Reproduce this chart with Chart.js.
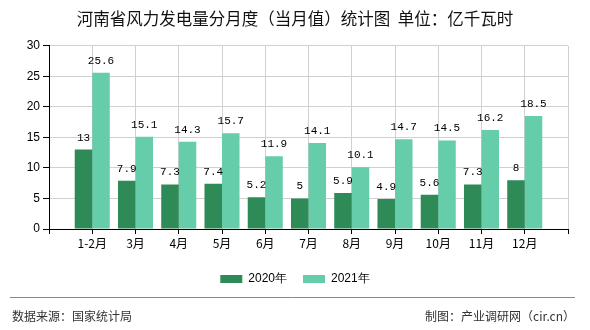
<!DOCTYPE html>
<html>
<head>
<meta charset="utf-8">
<script src="https://cdn.jsdelivr.net/npm/chart.js@4.4.1/dist/chart.umd.min.js"></script>
<style>
  html, body { margin: 0; padding: 0; background: #fff; }
  #wrap { width: 590px; height: 330px; position: relative; }
</style>
</head>
<body>
<div id="wrap"><canvas id="grafico"></canvas></div>
<script>
const meses = ['1-2月', '3月', '4月', '5月', '6月', '7月', '8月', '9月', '10月', '11月', '12月'];
const valores2020 = [13, 7.9, 7.3, 7.4, 5.2, 5, 5.9, 4.9, 5.6, 7.3, 8];
const valores2021 = [25.6, 15.1, 14.3, 15.7, 11.9, 14.1, 10.1, 14.7, 14.5, 16.2, 18.5];
const ticksY = [0, 5, 10, 15, 20, 25, 30];

// eixo com uma posição vazia em cada ponta, como no original
const rotulos = [''].concat(meses, ['']);
const comPontas = arr => [null].concat(arr, [null]);

const fonteCJK = '"Noto Sans CJK SC", "Noto Sans", sans-serif';

// rótulos de valor em cima das barras
const rotulosValor = {
    id: 'rotulosValor',
    afterDatasetsDraw(chart) {
        const ctx = chart.ctx;
        ctx.save();
        ctx.font = '11px "Liberation Mono", monospace';
        ctx.fillStyle = '#000';
        ctx.textAlign = 'center';
        ctx.textBaseline = 'middle';
        chart.data.datasets.forEach((ds, i) => {
            chart.getDatasetMeta(i).data.forEach((bar, j) => {
                const v = ds.data[j];
                if (v === null) return;
                ctx.fillText(String(v), bar.x, bar.y - 12);
            });
        });
        ctx.restore();
    }
};

// rodapé com fonte e linha
const rodape = {
    id: 'rodape',
    afterDraw(chart) {
        const ctx = chart.ctx;
        ctx.save();
        ctx.strokeStyle = '#888';
        ctx.lineWidth = 1;
        ctx.beginPath();
        ctx.moveTo(10, 297.5);
        ctx.lineTo(575, 297.5);
        ctx.stroke();
        ctx.font = '12px ' + fonteCJK;
        ctx.fillStyle = '#333';
        ctx.textBaseline = 'middle';
        ctx.textAlign = 'left';
        ctx.fillText('数据来源：国家统计局', 12, 316);
        ctx.textAlign = 'right';
        ctx.fillText('制图：产业调研网（cir.cn）', 575, 316);
        ctx.restore();
    }
};

new Chart(document.getElementById('grafico'), {
    type: 'bar',
    data: {
        labels: rotulos,
        datasets: [{
            label: '2020年',
            data: comPontas(valores2020),
            backgroundColor: '#2e8b57',
            categoryPercentage: 0.81,
            barPercentage: 1
        }, {
            label: '2021年',
            data: comPontas(valores2021),
            backgroundColor: '#66cdaa',
            categoryPercentage: 0.81,
            barPercentage: 1
        }]
    },
    options: {
        responsive: true,
        maintainAspectRatio: false,
        animation: false,
        layout: {
            padding: { left: 22, right: 22, top: 0, bottom: 35 }
        },
        plugins: {
            title: {
                display: true,
                text: '河南省风力发电量分月度（当月值）统计图  单位：亿千瓦时',
                color: '#111',
                font: { family: fonteCJK, size: 16.5, weight: 'normal' },
                padding: { top: 9, bottom: 17 }
            },
            legend: {
                position: 'bottom',
                labels: {
                    boxWidth: 22,
                    boxHeight: 8,
                    padding: 16,
                    color: '#000',
                    font: { family: 'Arial, "Liberation Sans", sans-serif', size: 12 }
                }
            },
            tooltip: { enabled: false }
        },
        scales: {
            x: {
                offset: false,
                afterFit: function (s) { s.height = 28; },
                grid: {
                    offset: false,
                    color: '#d0d0d0',
                    tickColor: '#000',
                    tickLength: 5
                },
                border: { color: '#000' },
                ticks: {
                    color: '#000',
                    autoSkip: false,
                    maxRotation: 0,
                    padding: 2,
                    font: { family: fonteCJK, size: 12 }
                }
            },
            y: {
                min: 0,
                max: 30,
                afterFit: function (s) { s.width = 27; },
                afterBuildTicks: function (s) { s.ticks = ticksY.map(v => ({ value: v })); },
                grid: {
                    color: '#d0d0d0',
                    tickColor: '#000',
                    tickLength: 6
                },
                border: { color: '#000' },
                ticks: {
                    color: '#000',
                    padding: 3,
                    font: { family: 'Arial, "Liberation Sans", sans-serif', size: 12 }
                }
            }
        }
    },
    plugins: [rotulosValor, rodape]
});
</script>
</body>
</html>
